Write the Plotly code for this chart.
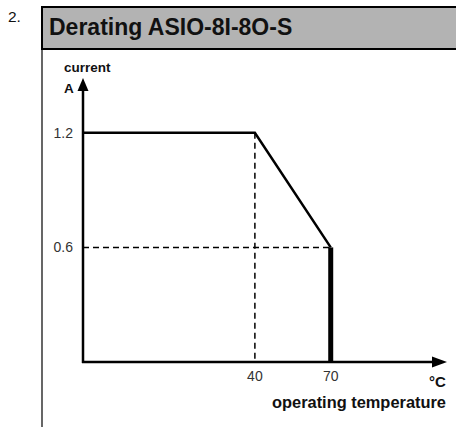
import plotly.graph_objects as go

# ---- data ----
temperature = [-28, 40, 70]          # schematic origin at left, then derating knee points
current = [1.2, 1.2, 0.6]
x_ticks = [40, 70]
x_tick_labels = ["40", "70"]
y_ticks = [0.6, 1.2]
y_tick_labels = ["0.6", "1.2"]
x_range = [-28, 116]
y_range = [0, 1.487]

W, H = 456, 427
PL, PR, PT, PB = 83, 447, 78, 362   # plot area in pixels
FONT = "Liberation Sans, Arial, sans-serif"


def px(x):
    return x / W


def py(y):
    return 1 - y / H


fig = go.Figure()

# dashed guide lines
fig.add_trace(go.Scatter(x=[temperature[0], temperature[2]], y=[current[2], current[2]],
                         mode="lines", line=dict(color="black", width=1.5, dash="6px,4px"),
                         hoverinfo="skip", showlegend=False))
fig.add_trace(go.Scatter(x=[temperature[1], temperature[1]], y=[current[1], 0],
                         mode="lines", line=dict(color="black", width=1.5, dash="6px,4px"),
                         hoverinfo="skip", showlegend=False))
# derating curve
fig.add_trace(go.Scatter(x=temperature, y=current, mode="lines",
                         line=dict(color="black", width=2.5), showlegend=False))
# thick cut-off at max temperature
fig.add_trace(go.Scatter(x=[temperature[2], temperature[2]], y=[current[2], 0], mode="lines",
                         line=dict(color="black", width=5), showlegend=False))

shapes = []
# header box
shapes.append(dict(type="rect", xref="paper", yref="paper", x0=px(42), x1=px(470),
                   y0=py(49), y1=py(7), fillcolor="#b3b3b3", line=dict(color="black", width=2),
                   layer="below"))
# left frame line
shapes.append(dict(type="line", xref="paper", yref="paper", x0=px(42), x1=px(42),
                   y0=py(49), y1=py(430), line=dict(color="black", width=1.2)))
# axis lines
shapes.append(dict(type="line", xref="paper", yref="paper", x0=px(PL), x1=px(PL),
                   y0=py(PB + 1), y1=py(PT + 8), line=dict(color="black", width=2.5)))
shapes.append(dict(type="line", xref="paper", yref="paper", x0=px(PL - 1), x1=px(PR - 8),
                   y0=py(PB), y1=py(PB), line=dict(color="black", width=2.5)))
# arrowheads
ya = f"M {px(PL)},{py(PT)} L {px(PL-5.5)},{py(PT+13)} L {px(PL+5.5)},{py(PT+13)} Z"
xa = f"M {px(PR)},{py(PB)} L {px(PR-15)},{py(PB-5.5)} L {px(PR-15)},{py(PB+5.5)} Z"
for p in (ya, xa):
    shapes.append(dict(type="path", xref="paper", yref="paper", path=p,
                       fillcolor="black", line=dict(color="black", width=0)))

annotations = [
    dict(text="2.", x=px(6), y=py(16), xanchor="left", yanchor="middle",
         font=dict(size=15.5, color="#111", family=FONT)),
    dict(text="<b>Derating ASIO-8I-8O-S</b>", x=px(47), y=py(27), xanchor="left", yanchor="middle",
         font=dict(size=23, color="#111", family=FONT)),
    dict(text="<b>current</b>", x=px(62), y=py(68), xanchor="left", yanchor="middle",
         font=dict(size=13.5, color="#111", family=FONT)),
    dict(text="<b>A</b>", x=px(62), y=py(88), xanchor="left", yanchor="middle",
         font=dict(size=13.5, color="#111", family=FONT)),
    dict(text="<b>°C</b>", x=px(448), y=py(381), xanchor="right", yanchor="middle",
         font=dict(size=15, color="#111", family=FONT)),
    dict(text="<b>operating temperature</b>", x=px(448), y=py(402), xanchor="right", yanchor="middle",
         font=dict(size=16.4, color="#111", family=FONT)),
]
for a in annotations:
    a.update(xref="paper", yref="paper", showarrow=False)

fig.update_layout(
    width=W, height=H, margin=dict(l=0, r=0, t=0, b=0),
    paper_bgcolor="white", plot_bgcolor="white",
    shapes=shapes, annotations=annotations, showlegend=False,
    xaxis=dict(domain=[PL / W, PR / W], range=x_range, showgrid=False, zeroline=False,
               showline=False, ticks="", tickvals=x_ticks, ticktext=x_tick_labels,
               tickfont=dict(size=14, color="#333", family=FONT), ticklabelstandoff=4,
               fixedrange=True),
    yaxis=dict(domain=[1 - PB / H, 1 - PT / H], range=y_range, showgrid=False, zeroline=False,
               showline=False, ticks="", tickvals=y_ticks, ticktext=y_tick_labels,
               tickfont=dict(size=14, color="#333", family=FONT), ticklabelstandoff=9,
               fixedrange=True),
)

fig.write_html("out.html", config={"displayModeBar": False},
               post_script="document.body.style.margin='0';document.body.style.overflow='hidden';")
